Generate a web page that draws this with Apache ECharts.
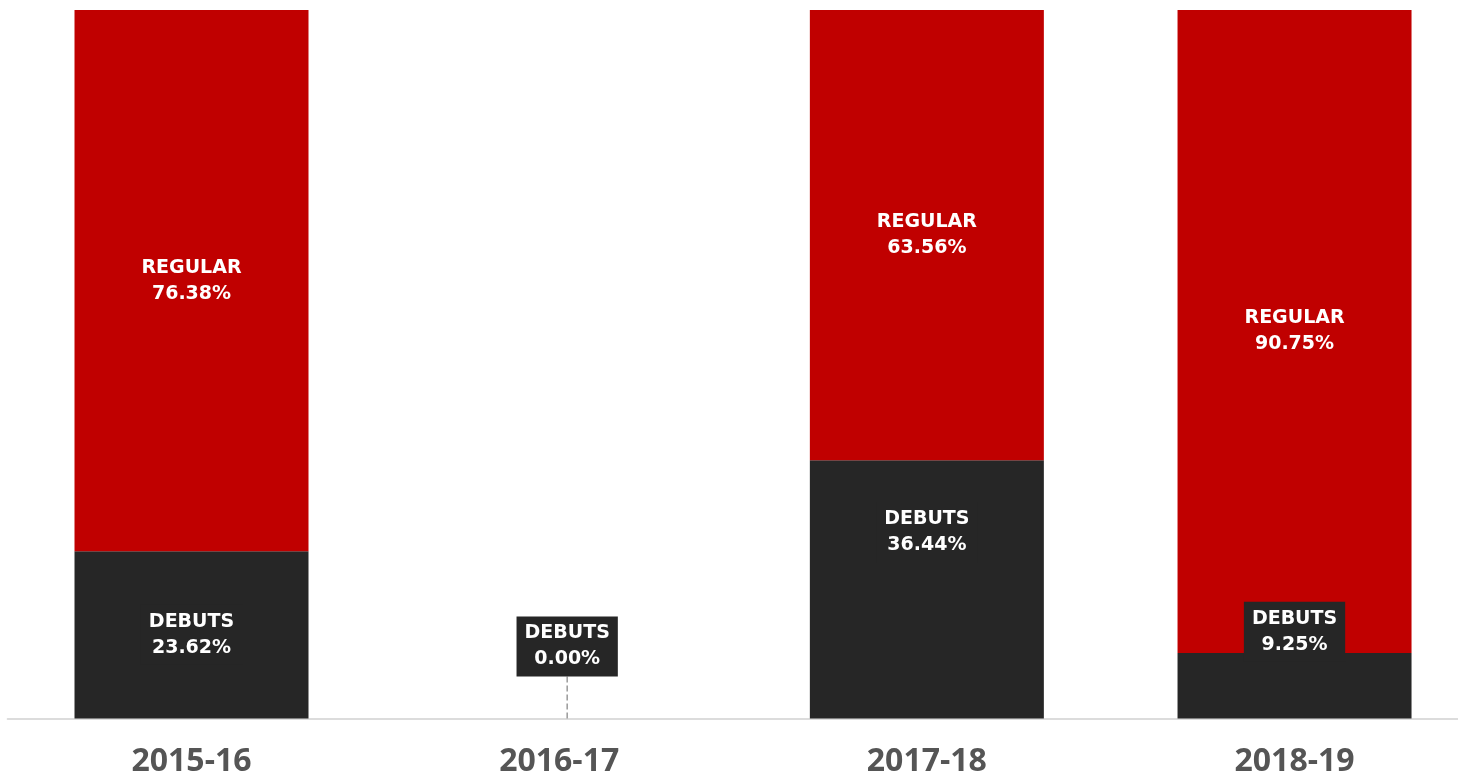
<!DOCTYPE html>
<html>
<head>
<meta charset="utf-8">
<style>
html,body{margin:0;padding:0;background:#fff;}
#chart{width:1458px;height:774px;}
</style>
<script src="https://cdn.jsdelivr.net/npm/echarts@6/dist/echarts.min.js"></script>
</head>
<body>
<div id="chart"></div>
<script>
const categories = ['2015-16', '2016-17', '2017-18', '2018-19'];
const debuts = [23.62, 0.00, 36.44, 9.25];
const regular = [76.38, 0, 63.56, 90.75];
const debutsName = 'DEBUTS';
const regularName = 'REGULAR';

const chart = echarts.init(document.getElementById('chart'));
const labelFont = {
  color: '#fff',
  fontFamily: 'DejaVu Sans',
  fontWeight: 'bold',
  fontSize: 19,
  lineHeight: 26
};
chart.setOption({
  animation: false,
  grid: { left: 7.67, top: 10, width: 1470.7, bottom: 55.5, containLabel: false, outerBoundsMode: 'none' },
  xAxis: {
    type: 'category',
    data: categories,
    axisLine: { lineStyle: { color: '#dcdcdc', width: 2 } },
    axisTick: { show: false },
    axisLabel: { color: '#555', fontFamily: 'Open Sans', fontWeight: 'bold', fontSize: 32, margin: 27 }
  },
  yAxis: { type: 'value', min: 0, max: 100, show: false, splitLine: { show: false } },
  series: [
    {
      name: debutsName,
      type: 'bar',
      stack: 'a',
      data: debuts,
      barWidth: 234,
      itemStyle: { color: '#262626' },
      label: Object.assign({
        show: true,
        position: 'inside',
        backgroundColor: '#262626',
        padding: [4, 8],
        formatter: p => debutsName + '\n' + p.value.toFixed(2) + '%'
      }, labelFont),
      labelLine: { show: true, lineStyle: { color: '#9a9a9a', width: 1.5, type: [6, 3] } },
      labelLayout: function (params) {
        if (params.dataIndex === 1) return { dx: 8, dy: -72 };
        if (params.dataIndex === 2) return { dy: -57 };
        if (params.dataIndex === 3) return { dy: -54 };
        return {};
      }
    },
    {
      name: regularName,
      type: 'bar',
      stack: 'a',
      data: regular,
      barWidth: 234,
      itemStyle: { color: '#c00000' },
      label: Object.assign({
        show: true,
        position: 'inside',
        formatter: p => p.value > 0 ? regularName + '\n' + p.value.toFixed(2) + '%' : ''
      }, labelFont)
    }
  ]
});
</script>
</body>
</html>
